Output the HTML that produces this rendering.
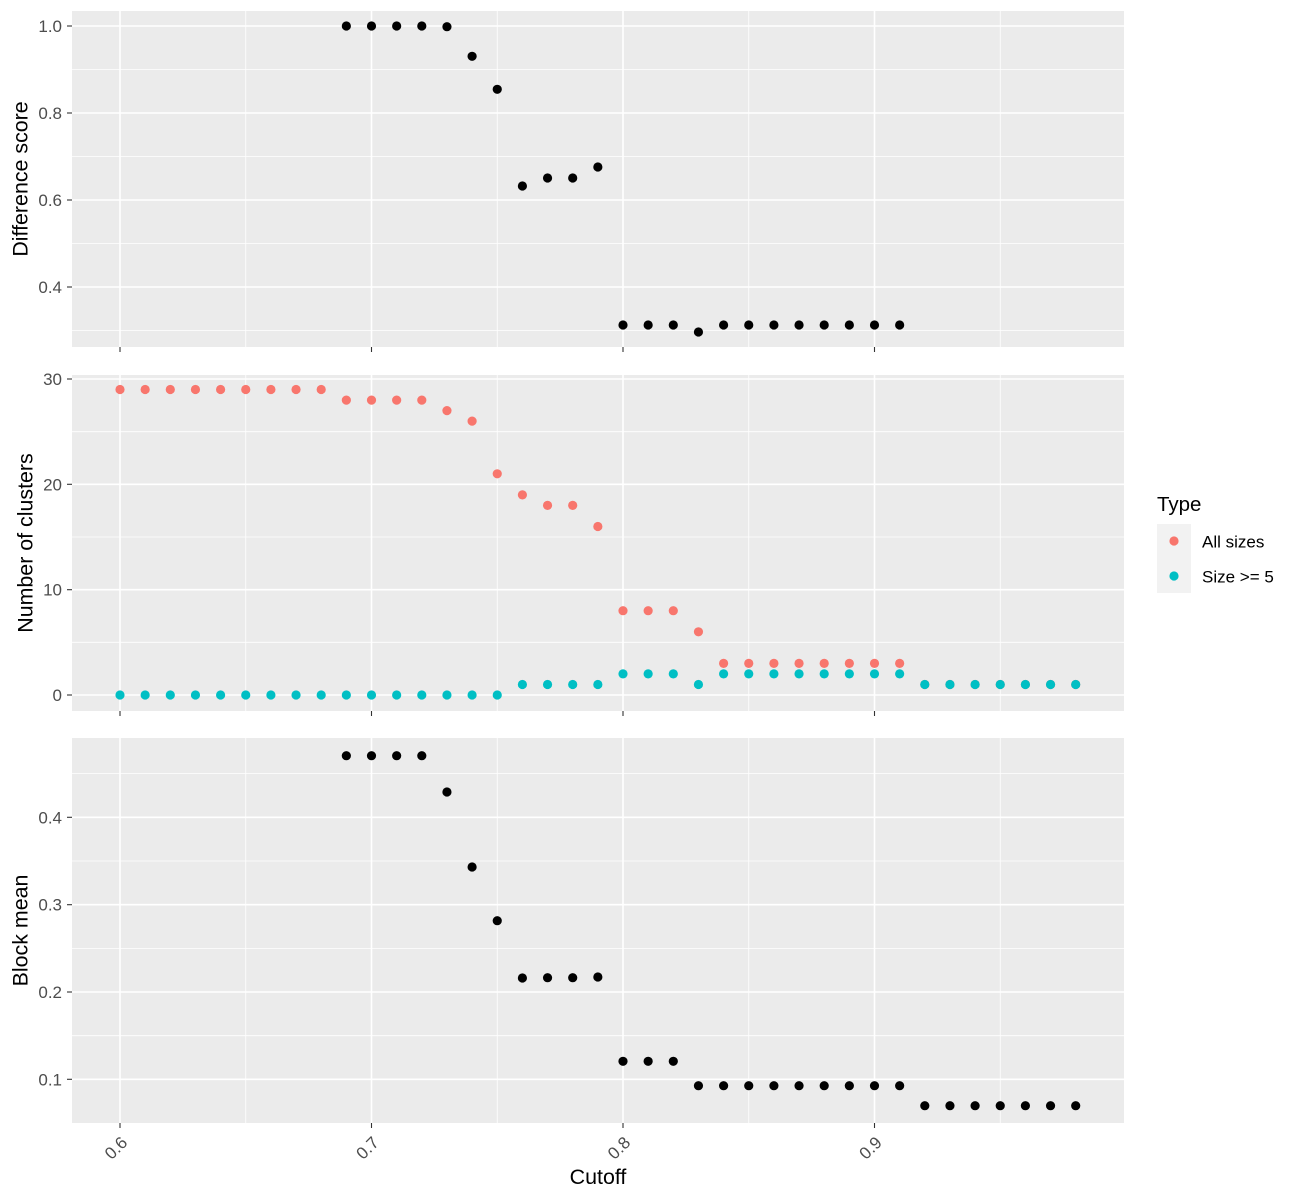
<!DOCTYPE html>
<html>
<head>
<meta charset="utf-8">
<style>
html,body{margin:0;padding:0;background:#fff;}
svg{display:block;}
text{font-family:"Liberation Sans",Arial,sans-serif;}
</style>
</head>
<body>
<svg width="1300" height="1200" viewBox="0 0 1300 1200" xmlns="http://www.w3.org/2000/svg">
<rect width="1300" height="1200" fill="#fff"/>

<!-- ============ PANEL 1 ============ -->
<rect x="72" y="11" width="1052" height="336" fill="#EBEBEB"/>
<g stroke="#fff" stroke-width="0.8">
  <line x1="72" x2="1124" y1="69.5" y2="69.5"/>
  <line x1="72" x2="1124" y1="156.5" y2="156.5"/>
  <line x1="72" x2="1124" y1="243.5" y2="243.5"/>
  <line x1="72" x2="1124" y1="330.5" y2="330.5"/>
  <line y1="11" y2="347" x1="245.75" x2="245.75"/>
  <line y1="11" y2="347" x1="497.25" x2="497.25"/>
  <line y1="11" y2="347" x1="748.75" x2="748.75"/>
  <line y1="11" y2="347" x1="1000.25" x2="1000.25"/>
</g>
<g stroke="#fff" stroke-width="1.6">
  <line x1="72" x2="1124" y1="26" y2="26"/>
  <line x1="72" x2="1124" y1="113" y2="113"/>
  <line x1="72" x2="1124" y1="200" y2="200"/>
  <line x1="72" x2="1124" y1="287" y2="287"/>
  <line y1="11" y2="347" x1="120" x2="120"/>
  <line y1="11" y2="347" x1="371.5" x2="371.5"/>
  <line y1="11" y2="347" x1="623" x2="623"/>
  <line y1="11" y2="347" x1="874.5" x2="874.5"/>
</g>
<g stroke="#333" stroke-width="1.1">
  <line x1="67" x2="72" y1="26" y2="26"/>
  <line x1="67" x2="72" y1="113" y2="113"/>
  <line x1="67" x2="72" y1="200" y2="200"/>
  <line x1="67" x2="72" y1="287" y2="287"/>
  <line x1="120" x2="120" y1="347" y2="352"/>
  <line x1="371.5" x2="371.5" y1="347" y2="352"/>
  <line x1="623" x2="623" y1="347" y2="352"/>
  <line x1="874.5" x2="874.5" y1="347" y2="352"/>
</g>
<g font-size="17" fill="#4D4D4D" text-anchor="end">
  <text x="62" y="32">1.0</text>
  <text x="62" y="119">0.8</text>
  <text x="62" y="206">0.6</text>
  <text x="62" y="293">0.4</text>
</g>
<text transform="translate(27.5,179) rotate(-90)" text-anchor="middle" font-size="21.4" fill="#000">Difference score</text>
<g fill="#000">
  <circle cx="346.35" cy="26" r="4.6"/>
  <circle cx="371.5" cy="26" r="4.6"/>
  <circle cx="396.65" cy="26" r="4.6"/>
  <circle cx="421.8" cy="26" r="4.6"/>
  <circle cx="446.95" cy="26.7" r="4.6"/>
  <circle cx="472.1" cy="56.3" r="4.6"/>
  <circle cx="497.25" cy="89.3" r="4.6"/>
  <circle cx="522.4" cy="186" r="4.6"/>
  <circle cx="547.55" cy="178" r="4.6"/>
  <circle cx="572.7" cy="178" r="4.6"/>
  <circle cx="597.85" cy="167" r="4.6"/>
  <circle cx="623" cy="325" r="4.6"/>
  <circle cx="648.15" cy="325" r="4.6"/>
  <circle cx="673.3" cy="325" r="4.6"/>
  <circle cx="698.45" cy="332" r="4.6"/>
  <circle cx="723.6" cy="325" r="4.6"/>
  <circle cx="748.75" cy="325" r="4.6"/>
  <circle cx="773.9" cy="325" r="4.6"/>
  <circle cx="799.05" cy="325" r="4.6"/>
  <circle cx="824.2" cy="325" r="4.6"/>
  <circle cx="849.35" cy="325" r="4.6"/>
  <circle cx="874.5" cy="325" r="4.6"/>
  <circle cx="899.65" cy="325" r="4.6"/>
</g>

<!-- ============ PANEL 2 ============ -->
<rect x="72" y="375" width="1052" height="336" fill="#EBEBEB"/>
<g stroke="#fff" stroke-width="0.8">
  <line x1="72" x2="1124" y1="431.7" y2="431.7"/>
  <line x1="72" x2="1124" y1="537" y2="537"/>
  <line x1="72" x2="1124" y1="642.3" y2="642.3"/>
  <line y1="375" y2="711" x1="245.75" x2="245.75"/>
  <line y1="375" y2="711" x1="497.25" x2="497.25"/>
  <line y1="375" y2="711" x1="748.75" x2="748.75"/>
  <line y1="375" y2="711" x1="1000.25" x2="1000.25"/>
</g>
<g stroke="#fff" stroke-width="1.6">
  <line x1="72" x2="1124" y1="379" y2="379"/>
  <line x1="72" x2="1124" y1="484.3" y2="484.3"/>
  <line x1="72" x2="1124" y1="589.7" y2="589.7"/>
  <line x1="72" x2="1124" y1="695" y2="695"/>
  <line y1="375" y2="711" x1="120" x2="120"/>
  <line y1="375" y2="711" x1="371.5" x2="371.5"/>
  <line y1="375" y2="711" x1="623" x2="623"/>
  <line y1="375" y2="711" x1="874.5" x2="874.5"/>
</g>
<g stroke="#333" stroke-width="1.1">
  <line x1="67" x2="72" y1="379" y2="379"/>
  <line x1="67" x2="72" y1="484.3" y2="484.3"/>
  <line x1="67" x2="72" y1="589.7" y2="589.7"/>
  <line x1="67" x2="72" y1="695" y2="695"/>
  <line x1="120" x2="120" y1="711" y2="716"/>
  <line x1="371.5" x2="371.5" y1="711" y2="716"/>
  <line x1="623" x2="623" y1="711" y2="716"/>
  <line x1="874.5" x2="874.5" y1="711" y2="716"/>
</g>
<g font-size="17" fill="#4D4D4D" text-anchor="end">
  <text x="62" y="385">30</text>
  <text x="62" y="490.3">20</text>
  <text x="62" y="595.7">10</text>
  <text x="62" y="701">0</text>
</g>
<text transform="translate(32.5,543) rotate(-90)" text-anchor="middle" font-size="21.4" fill="#000">Number of clusters</text>
<g fill="#F8766D">
  <circle cx="120" cy="389.5" r="4.6"/>
  <circle cx="145.15" cy="389.5" r="4.6"/>
  <circle cx="170.3" cy="389.5" r="4.6"/>
  <circle cx="195.45" cy="389.5" r="4.6"/>
  <circle cx="220.6" cy="389.5" r="4.6"/>
  <circle cx="245.75" cy="389.5" r="4.6"/>
  <circle cx="270.9" cy="389.5" r="4.6"/>
  <circle cx="296.05" cy="389.5" r="4.6"/>
  <circle cx="321.2" cy="389.5" r="4.6"/>
  <circle cx="346.35" cy="400.1" r="4.6"/>
  <circle cx="371.5" cy="400.1" r="4.6"/>
  <circle cx="396.65" cy="400.1" r="4.6"/>
  <circle cx="421.8" cy="400.1" r="4.6"/>
  <circle cx="446.95" cy="410.6" r="4.6"/>
  <circle cx="472.1" cy="421.1" r="4.6"/>
  <circle cx="497.25" cy="473.8" r="4.6"/>
  <circle cx="522.4" cy="494.9" r="4.6"/>
  <circle cx="547.55" cy="505.4" r="4.6"/>
  <circle cx="572.7" cy="505.4" r="4.6"/>
  <circle cx="597.85" cy="526.5" r="4.6"/>
  <circle cx="623" cy="610.7" r="4.6"/>
  <circle cx="648.15" cy="610.7" r="4.6"/>
  <circle cx="673.3" cy="610.7" r="4.6"/>
  <circle cx="698.45" cy="631.8" r="4.6"/>
  <circle cx="723.6" cy="663.4" r="4.6"/>
  <circle cx="748.75" cy="663.4" r="4.6"/>
  <circle cx="773.9" cy="663.4" r="4.6"/>
  <circle cx="799.05" cy="663.4" r="4.6"/>
  <circle cx="824.2" cy="663.4" r="4.6"/>
  <circle cx="849.35" cy="663.4" r="4.6"/>
  <circle cx="874.5" cy="663.4" r="4.6"/>
  <circle cx="899.65" cy="663.4" r="4.6"/>
  <circle cx="924.8" cy="684.5" r="4.6"/>
  <circle cx="949.95" cy="684.5" r="4.6"/>
  <circle cx="975.1" cy="684.5" r="4.6"/>
  <circle cx="1000.25" cy="684.5" r="4.6"/>
  <circle cx="1025.4" cy="684.5" r="4.6"/>
  <circle cx="1050.55" cy="684.5" r="4.6"/>
  <circle cx="1075.7" cy="684.5" r="4.6"/>
</g>
<g fill="#00BFC4">
  <circle cx="120" cy="695" r="4.6"/>
  <circle cx="145.15" cy="695" r="4.6"/>
  <circle cx="170.3" cy="695" r="4.6"/>
  <circle cx="195.45" cy="695" r="4.6"/>
  <circle cx="220.6" cy="695" r="4.6"/>
  <circle cx="245.75" cy="695" r="4.6"/>
  <circle cx="270.9" cy="695" r="4.6"/>
  <circle cx="296.05" cy="695" r="4.6"/>
  <circle cx="321.2" cy="695" r="4.6"/>
  <circle cx="346.35" cy="695" r="4.6"/>
  <circle cx="371.5" cy="695" r="4.6"/>
  <circle cx="396.65" cy="695" r="4.6"/>
  <circle cx="421.8" cy="695" r="4.6"/>
  <circle cx="446.95" cy="695" r="4.6"/>
  <circle cx="472.1" cy="695" r="4.6"/>
  <circle cx="497.25" cy="695" r="4.6"/>
  <circle cx="522.4" cy="684.5" r="4.6"/>
  <circle cx="547.55" cy="684.5" r="4.6"/>
  <circle cx="572.7" cy="684.5" r="4.6"/>
  <circle cx="597.85" cy="684.5" r="4.6"/>
  <circle cx="623" cy="673.9" r="4.6"/>
  <circle cx="648.15" cy="673.9" r="4.6"/>
  <circle cx="673.3" cy="673.9" r="4.6"/>
  <circle cx="698.45" cy="684.5" r="4.6"/>
  <circle cx="723.6" cy="673.9" r="4.6"/>
  <circle cx="748.75" cy="673.9" r="4.6"/>
  <circle cx="773.9" cy="673.9" r="4.6"/>
  <circle cx="799.05" cy="673.9" r="4.6"/>
  <circle cx="824.2" cy="673.9" r="4.6"/>
  <circle cx="849.35" cy="673.9" r="4.6"/>
  <circle cx="874.5" cy="673.9" r="4.6"/>
  <circle cx="899.65" cy="673.9" r="4.6"/>
  <circle cx="924.8" cy="684.5" r="4.6"/>
  <circle cx="949.95" cy="684.5" r="4.6"/>
  <circle cx="975.1" cy="684.5" r="4.6"/>
  <circle cx="1000.25" cy="684.5" r="4.6"/>
  <circle cx="1025.4" cy="684.5" r="4.6"/>
  <circle cx="1050.55" cy="684.5" r="4.6"/>
  <circle cx="1075.7" cy="684.5" r="4.6"/>
</g>

<!-- Legend -->
<text x="1157" y="511" font-size="20.5" fill="#000">Type</text>
<rect x="1157" y="524" width="34" height="69" fill="#F2F2F2"/>
<circle cx="1174" cy="541" r="4.6" fill="#F8766D"/>
<circle cx="1174" cy="576" r="4.6" fill="#00BFC4"/>
<g font-size="17" fill="#000">
  <text x="1202" y="547.5">All sizes</text>
  <text x="1202" y="582.5">Size &gt;= 5</text>
</g>

<!-- ============ PANEL 3 ============ -->
<rect x="72" y="738" width="1052" height="385" fill="#EBEBEB"/>
<g stroke="#fff" stroke-width="0.8">
  <line x1="72" x2="1124" y1="773.6" y2="773.6"/>
  <line x1="72" x2="1124" y1="861" y2="861"/>
  <line x1="72" x2="1124" y1="948.4" y2="948.4"/>
  <line x1="72" x2="1124" y1="1035.7" y2="1035.7"/>
  <line y1="738" y2="1123" x1="245.75" x2="245.75"/>
  <line y1="738" y2="1123" x1="497.25" x2="497.25"/>
  <line y1="738" y2="1123" x1="748.75" x2="748.75"/>
  <line y1="738" y2="1123" x1="1000.25" x2="1000.25"/>
</g>
<g stroke="#fff" stroke-width="1.6">
  <line x1="72" x2="1124" y1="817.3" y2="817.3"/>
  <line x1="72" x2="1124" y1="904.7" y2="904.7"/>
  <line x1="72" x2="1124" y1="992" y2="992"/>
  <line x1="72" x2="1124" y1="1079.3" y2="1079.3"/>
  <line y1="738" y2="1123" x1="120" x2="120"/>
  <line y1="738" y2="1123" x1="371.5" x2="371.5"/>
  <line y1="738" y2="1123" x1="623" x2="623"/>
  <line y1="738" y2="1123" x1="874.5" x2="874.5"/>
</g>
<g stroke="#333" stroke-width="1.1">
  <line x1="67" x2="72" y1="817.3" y2="817.3"/>
  <line x1="67" x2="72" y1="904.7" y2="904.7"/>
  <line x1="67" x2="72" y1="992" y2="992"/>
  <line x1="67" x2="72" y1="1079.3" y2="1079.3"/>
  <line x1="120" x2="120" y1="1123" y2="1128"/>
  <line x1="371.5" x2="371.5" y1="1123" y2="1128"/>
  <line x1="623" x2="623" y1="1123" y2="1128"/>
  <line x1="874.5" x2="874.5" y1="1123" y2="1128"/>
</g>
<g font-size="17" fill="#4D4D4D" text-anchor="end">
  <text x="62" y="823.3">0.4</text>
  <text x="62" y="910.7">0.3</text>
  <text x="62" y="998">0.2</text>
  <text x="62" y="1085.3">0.1</text>
</g>
<g font-size="17" fill="#4D4D4D" text-anchor="end">
  <text transform="translate(128.4,1143.7) rotate(-45)">0.6</text>
  <text transform="translate(379.9,1143.7) rotate(-45)">0.7</text>
  <text transform="translate(631.4,1143.7) rotate(-45)">0.8</text>
  <text transform="translate(882.9,1143.7) rotate(-45)">0.9</text>
</g>
<text transform="translate(27.5,930.5) rotate(-90)" text-anchor="middle" font-size="21.4" fill="#000">Block mean</text>
<text x="598" y="1184" text-anchor="middle" font-size="21.4" fill="#000">Cutoff</text>
<g fill="#000">
  <circle cx="346.35" cy="755.7" r="4.6"/>
  <circle cx="371.5" cy="755.7" r="4.6"/>
  <circle cx="396.65" cy="755.7" r="4.6"/>
  <circle cx="421.8" cy="755.7" r="4.6"/>
  <circle cx="446.95" cy="792" r="4.6"/>
  <circle cx="472.1" cy="867" r="4.6"/>
  <circle cx="497.25" cy="920.7" r="4.6"/>
  <circle cx="522.4" cy="978" r="4.6"/>
  <circle cx="547.55" cy="977.7" r="4.6"/>
  <circle cx="572.7" cy="977.7" r="4.6"/>
  <circle cx="597.85" cy="977" r="4.6"/>
  <circle cx="623" cy="1061.3" r="4.6"/>
  <circle cx="648.15" cy="1061.3" r="4.6"/>
  <circle cx="673.3" cy="1061.3" r="4.6"/>
  <circle cx="698.45" cy="1085.7" r="4.6"/>
  <circle cx="723.6" cy="1085.7" r="4.6"/>
  <circle cx="748.75" cy="1085.7" r="4.6"/>
  <circle cx="773.9" cy="1085.7" r="4.6"/>
  <circle cx="799.05" cy="1085.7" r="4.6"/>
  <circle cx="824.2" cy="1085.7" r="4.6"/>
  <circle cx="849.35" cy="1085.7" r="4.6"/>
  <circle cx="874.5" cy="1085.7" r="4.6"/>
  <circle cx="899.65" cy="1085.7" r="4.6"/>
  <circle cx="924.8" cy="1105.7" r="4.6"/>
  <circle cx="949.95" cy="1105.7" r="4.6"/>
  <circle cx="975.1" cy="1105.7" r="4.6"/>
  <circle cx="1000.25" cy="1105.7" r="4.6"/>
  <circle cx="1025.4" cy="1105.7" r="4.6"/>
  <circle cx="1050.55" cy="1105.7" r="4.6"/>
  <circle cx="1075.7" cy="1105.7" r="4.6"/>
</g>
</svg>
</body>
</html>
